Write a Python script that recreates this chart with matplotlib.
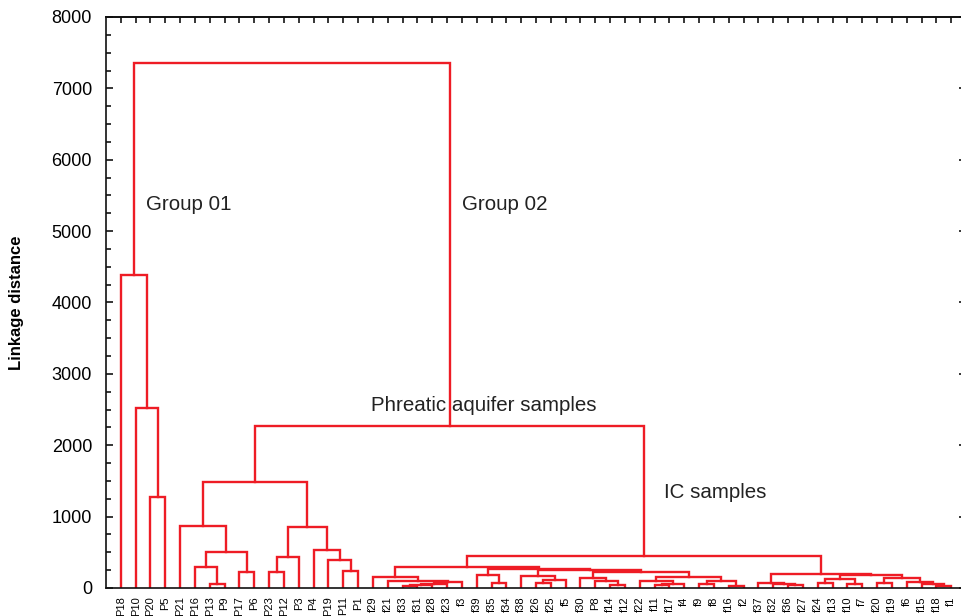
import matplotlib
matplotlib.use("Agg")
import matplotlib.pyplot as plt
from matplotlib.ticker import MultipleLocator, FixedLocator

# Leaf order along the horizontal axis
leaves = ["P18", "P10", "P20", "P5", "P21", "P16", "P13", "P9", "P17", "P6",
          "P23", "P12", "P3", "P4", "P19", "P11", "P1",
          "f29", "f21", "f33", "f31", "f28", "f23", "f3",
          "f39", "f35", "f34", "f38", "f26", "f25", "f5",
          "f30", "P8", "f14", "f12", "f22", "f11", "f17", "f4",
          "f9", "f8", "f16", "f2",
          "f37", "f32", "f36", "f27",
          "f24", "f13", "f10", "f7", "f20", "f19", "f6", "f15", "f18", "f1"]

# Agglomeration steps: (left member, right member, linkage distance)
# a string is a single sample, an integer refers to an earlier step
merges = [
    ("P20", "P5", 1275),   # 0
    ("P10", 0, 2520),      # 1
    ("P18", 1, 4390),      # 2
    ("P13", "P9", 56),     # 3
    ("P16", 3, 290),       # 4
    ("P17", "P6", 220),    # 5
    (4, 5, 505),           # 6
    ("P21", 6, 873),       # 7
    ("P23", "P12", 220),   # 8
    (8, "P3", 439),        # 9
    ("P11", "P1", 238),    # 10
    ("P19", 10, 392),      # 11
    ("P4", 11, 532),       # 12
    (9, 12, 860),          # 13
    (7, 13, 1490),         # 14
    ("f33", "f31", 30),    # 15
    (15, "f28", 45),       # 16
    (16, "f23", 60),       # 17
    (17, "f3", 85),        # 18
    ("f21", 18, 103),      # 19
    ("f29", 19, 159),      # 20
    ("f35", "f34", 75),    # 21
    ("f39", 21, 180),      # 22
    ("f26", "f25", 65),    # 23
    (23, "f5", 115),       # 24
    ("f38", 24, 165),      # 25
    ("f14", "f12", 45),    # 26
    ("P8", 26, 95),        # 27
    ("f30", 27, 135),      # 28
    ("f11", "f17", 40),    # 29
    (29, "f4", 60),        # 30
    ("f22", 30, 100),      # 31
    ("f9", "f8", 55),      # 32
    ("f16", "f2", 35),     # 33
    (32, 33, 100),         # 34
    (31, 34, 150),         # 35
    (28, 35, 230),         # 36
    (25, 36, 250),         # 37
    (22, 37, 270),         # 38
    (20, 38, 299),         # 39
    ("f36", "f27", 40),    # 40
    ("f32", 40, 60),       # 41
    ("f37", 41, 75),       # 42
    ("f24", "f13", 65),    # 43
    ("f10", "f7", 55),     # 44
    (43, 44, 120),         # 45
    ("f18", "f1", 30),     # 46
    ("f15", 46, 50),       # 47
    ("f6", 47, 80),        # 48
    ("f20", "f19", 65),    # 49
    (49, 48, 135),         # 50
    (45, 50, 180),         # 51
    (42, 51, 192),         # 52
    (39, 52, 455),         # 53
    (14, 53, 2270),        # 54
    (2, 54, 7350),         # 55
]

# Cluster annotations: (text, x in leaf units, linkage distance)
annotations = [
    ("Group 01", 2.7, 5370),
    ("Group 02", 24.0, 5370),
    ("Phreatic aquifer samples", 17.9, 2560),
    ("IC samples", 37.6, 1340),
]

LINE_RED = "#ee1c25"
FONT = ["Liberation Sans", "DejaVu Sans"]
plt.rcParams["font.family"] = FONT

fig = plt.figure(figsize=(9.62, 6.16), dpi=100)
ax = fig.add_axes([106 / 962, 28 / 616, 860 / 962, 571 / 616])

leaf_x = {name: i + 1 for i, name in enumerate(leaves)}
node_x, node_h = [], []


def member(ref):
    if isinstance(ref, str):
        return leaf_x[ref], 0.0
    return node_x[ref], node_h[ref]


for left, right, h in merges:
    xl, hl = member(left)
    xr, hr = member(right)
    ax.plot([xl, xl, xr, xr], [hl, h, h, hr], color=LINE_RED, lw=1.7,
            solid_joinstyle="miter", zorder=2)
    node_x.append((xl + xr) / 2)
    node_h.append(h)

for text, x, y in annotations:
    ax.text(x, y, text, fontsize=14.8, va="center", ha="left", color="#222222")

ax.set_xlim(0, len(leaves) + 1)
ax.set_ylim(0, 8000)

ax.yaxis.set_major_locator(MultipleLocator(1000))
ax.yaxis.set_minor_locator(MultipleLocator(250))
ax.tick_params(axis="y", which="major", direction="in", length=5, width=1.1,
               labelsize=13, left=True, right=True, labelright=False, pad=10)
ax.tick_params(axis="y", which="minor", direction="in", length=3.5, width=1.1,
               left=True, right=False)

ax.xaxis.set_major_locator(FixedLocator(list(leaf_x.values())))
ax.set_xticklabels(leaves, rotation=90, fontsize=8)
ax.tick_params(axis="x", which="major", direction="in", length=0, pad=6,
               top=False, bottom=True)

# inward case ticks along the top frame
top = ax.secondary_xaxis("top")
top.set_xticks(list(leaf_x.values()))
top.set_xticklabels([])
top.tick_params(direction="in", length=4, width=1.1)
top.spines["top"].set_linewidth(1.2)

for s in ax.spines.values():
    s.set_linewidth(1.2)
    s.set_color("#111111")

ax.set_ylabel("Linkage distance", fontsize=12, fontweight="bold")
ax.yaxis.label.set_verticalalignment("center")
ax.yaxis.set_label_coords(-89 / 860, 0.5)

fig.savefig("out.png", dpi=100)
